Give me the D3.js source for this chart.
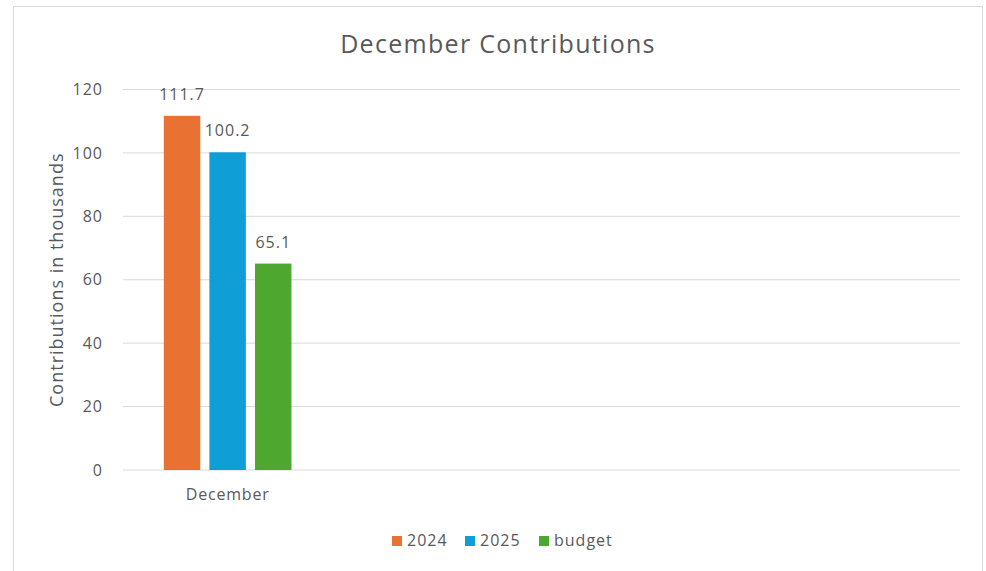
<!DOCTYPE html>
<html>
  <head>
    <meta charset="utf-8">
    <title>December Contributions</title>
    <script src="https://d3js.org/d3.v7.min.js"></script>
    <style>
      body { margin: 0; background: #fff; }
      text { font-family: "Open Sans", "DejaVu Sans", sans-serif; fill: #595959; }
    </style>
  </head>
  <body>
    <div id="chart"></div>
    <script>
      // chart data
      var categories = ["December"];
      var series = ["2024", "2025", "budget"];
      var values2024 = [111.7];
      var values2025 = [100.2];
      var valuesBudget = [65.1];
      var yTicks = [0, 20, 40, 60, 80, 100, 120];
      var colors = ["#e97132", "#0f9ed5", "#4ea72e"];

      var allValues = [values2024, values2025, valuesBudget];

      var W = 986, H = 571;
      var margin = { top: 89.5, right: 26, bottom: 101, left: 123 };
      var width = W - margin.left - margin.right,
          height = H - margin.top - margin.bottom;

      var svg = d3.select("#chart")
                  .append("svg")
                  .attr("width", W)
                  .attr("height", H);

      // chart border
      svg.append("rect")
         .attr("x", 13.5).attr("y", 6.5)
         .attr("width", 969).attr("height", 580)
         .attr("fill", "none")
         .attr("stroke", "#d9d9d9");

      var g = svg.append("g")
                 .attr("transform", "translate(" + margin.left + "," + margin.top + ")");

      // the axis keeps 4 category slots, only the first one has data
      var slots = categories.concat(["", " ", "  "]);
      var xScale = d3.scaleBand()
                     .domain(slots)
                     .range([0, width]);
      var xInner = d3.scaleBand()
                     .domain(series)
                     .range([xScale.bandwidth() * 0.195, xScale.bandwidth() * 0.805])
                     .paddingInner(0.2);
      var yScale = d3.scaleLinear()
                     .domain([0, 120])
                     .range([height, 0]);

      // gridlines
      g.selectAll(".grid")
       .data(yTicks)
       .enter()
       .append("line")
       .attr("x1", 0).attr("x2", width)
       .attr("y1", function(d) { return yScale(d); })
       .attr("y2", function(d) { return yScale(d); })
       .attr("stroke", "#d9d9d9")
       .attr("stroke-width", 1);

      // y axis labels
      var yAxis = g.append("g")
                   .call(d3.axisLeft(yScale).tickValues(yTicks).tickSize(0).tickPadding(20));
      yAxis.select(".domain").remove();
      yAxis.selectAll("text")
           .style("font-size", "16px")
           .style("letter-spacing", "1px")
           .style("fill", "#595959")
           .style("font-family", "\"Open Sans\", sans-serif");

      // x axis labels
      var xAxis = g.append("g")
                   .attr("transform", "translate(0," + height + ")")
                   .call(d3.axisBottom(xScale).tickSize(0).tickPadding(19));
      xAxis.select(".domain").remove();
      xAxis.selectAll("text")
           .style("font-size", "16px")
           .style("letter-spacing", "0.8px")
           .style("fill", "#595959")
           .style("font-family", "\"Open Sans\", sans-serif");

      // bars
      series.forEach(function(s, i) {
        var vals = allValues[i];
        g.selectAll(".bar-" + i)
         .data(vals)
         .enter()
         .append("rect")
         .attr("x", function(d, j) { return xScale(categories[j]) + xInner(s); })
         .attr("y", function(d) { return yScale(d); })
         .attr("width", xInner.bandwidth())
         .attr("height", function(d) { return height - yScale(d); })
         .attr("fill", colors[i]);

        g.selectAll(".label-" + i)
         .data(vals)
         .enter()
         .append("text")
         .attr("x", function(d, j) { return xScale(categories[j]) + xInner(s) + xInner.bandwidth() / 2; })
         .attr("y", function(d) { return yScale(d) - 16; })
         .attr("text-anchor", "middle")
         .style("font-size", "16px")
         .style("letter-spacing", "1px")
         .text(function(d) { return d.toFixed(1); });
      });

      // title
      svg.append("text")
         .attr("x", 498)
         .attr("y", 53)
         .attr("text-anchor", "middle")
         .style("font-size", "25px")
         .style("letter-spacing", "1.3px")
         .text("December Contributions");

      // y axis title
      svg.append("text")
         .attr("transform", "translate(63," + (margin.top + height / 2) + ") rotate(-90)")
         .attr("text-anchor", "middle")
         .style("font-size", "18px")
         .style("letter-spacing", "1px")
         .text("Contributions in thousands");

      // legend
      var legendX = [392, 465, 539];
      var legend = svg.append("g");
      series.forEach(function(s, i) {
        legend.append("rect")
              .attr("x", legendX[i]).attr("y", 536)
              .attr("width", 10).attr("height", 10)
              .attr("fill", colors[i]);
        legend.append("text")
              .attr("x", legendX[i] + 15)
              .attr("y", 546)
              .style("font-size", "16px")
              .style("letter-spacing", "1px")
              .text(s);
      });
    </script>
  </body>
</html>
